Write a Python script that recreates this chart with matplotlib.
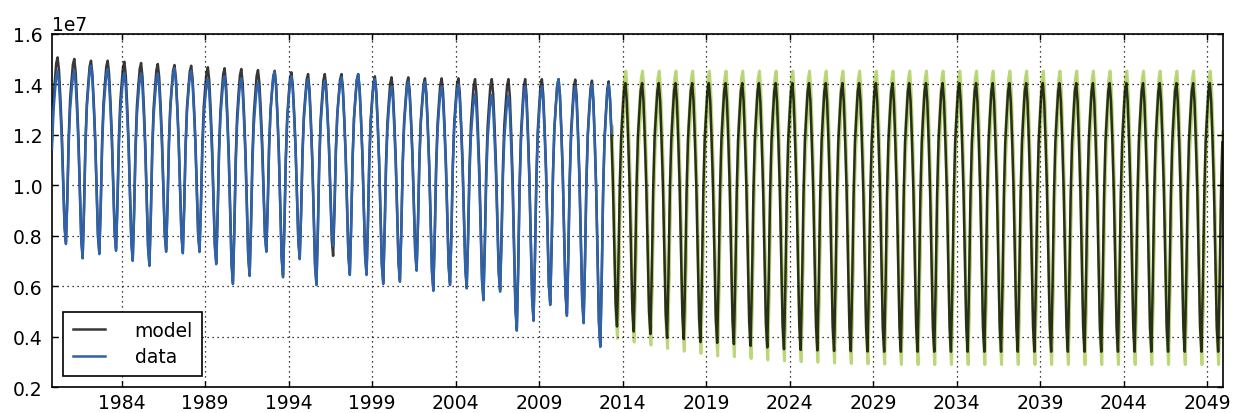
import numpy as np
import matplotlib
matplotlib.use("Agg")
import matplotlib.pyplot as plt

# seasonal shape of one year, Jan..Dec (0 = September minimum, 1 = March maximum)
season = [0.88, 0.97, 1.0, 0.93, 0.78, 0.60, 0.34, 0.09, 0.0, 0.25, 0.58, 0.78]

# observed extent, yearly March maxima (1980..2013) and September minima (1979..2013)
data_max = [1.454, 1.454, 1.474, 1.461, 1.445, 1.443, 1.443, 1.464, 1.454, 1.421,
            1.432, 1.424, 1.408, 1.450, 1.432, 1.421, 1.415, 1.428, 1.440, 1.421,
            1.392, 1.410, 1.410, 1.392, 1.400, 1.362, 1.358, 1.355, 1.392, 1.392,
            1.421, 1.392, 1.400, 1.400]
data_min = [0.720, 0.767, 0.710, 0.727, 0.740, 0.700, 0.680, 0.736, 0.730, 0.735,
            0.687, 0.608, 0.640, 0.736, 0.635, 0.707, 0.604, 0.760, 0.644, 0.644,
            0.608, 0.617, 0.661, 0.581, 0.604, 0.591, 0.544, 0.578, 0.423, 0.462,
            0.525, 0.482, 0.453, 0.359, 0.520]

# model, yearly maxima (1980..2050) and minima (1979..2049)
model_max = [1.507, 1.501, 1.494, 1.494, 1.490, 1.485, 1.481, 1.477, 1.474, 1.468,
             1.464, 1.461, 1.457, 1.454, 1.448, 1.441, 1.441, 1.441, 1.441, 1.432,
             1.428, 1.428, 1.424, 1.424, 1.424, 1.421, 1.421, 1.421, 1.421, 1.421,
             1.421, 1.419, 1.415, 1.412] + [1.405] * 37
model_min = [0.730, 0.777, 0.720, 0.737, 0.750, 0.710, 0.690, 0.746, 0.740, 0.745,
             0.697, 0.618, 0.650, 0.746, 0.645, 0.717, 0.614, 0.720, 0.654, 0.654,
             0.618, 0.627, 0.671, 0.591, 0.614, 0.601, 0.554, 0.588, 0.433, 0.472,
             0.535, 0.492, 0.463, 0.369,
             0.440, 0.420, 0.410, 0.395, 0.390, 0.378, 0.375, 0.370, 0.363, 0.357,
             0.350, 0.347, 0.345, 0.343, 0.342, 0.341, 0.340] + [0.340] * 20

# forecast band, maxima (2013..2050) and minima (2013..2049)
band_top_max = [1.455] * 38
band_bot_max = [1.350] * 38
band_top_min = [0.470, 0.450, 0.440, 0.425, 0.420, 0.410, 0.405, 0.400, 0.393, 0.387,
                0.380, 0.377, 0.375, 0.373, 0.372, 0.371, 0.370] + [0.370] * 20
band_bot_min = [0.395, 0.380, 0.368, 0.355, 0.344, 0.335, 0.325, 0.322, 0.315, 0.309,
                0.305, 0.302, 0.300, 0.297, 0.295, 0.294, 0.293] + [0.291] * 20


def monthly(maxima, max_y0, minima, min_y0, start, end):
    hi = {max_y0 + i: v for i, v in enumerate(maxima)}
    lo = {min_y0 + i: v for i, v in enumerate(minima)}
    t, v = [], []
    for k in range(start[0] * 12 + start[1] - 1, end[0] * 12 + end[1]):
        y, m = divmod(k, 12)
        f = season[m]
        if m < 2:
            a, b = lo[y - 1], hi[y]
        elif m < 9:
            a, b = lo[y], hi[y]
        else:
            a, b = lo[y], hi[y + 1]
        t.append(y + m / 12.0)
        v.append((a + f * (b - a)) * 1e7)
    return np.array(t), np.array(v)


t_data, y_data = monthly(data_max, 1980, data_min, 1979, (1979, 11), (2013, 5))
t_model, y_model = monthly(model_max, 1980, model_min, 1979, (1979, 11), (2049, 12))
t_band, y_top = monthly(band_top_max, 2013, band_top_min, 2013, (2013, 5), (2049, 12))
_, y_bot = monthly(band_bot_max, 2013, band_bot_min, 2013, (2013, 5), (2049, 12))

plt.rcParams["font.family"] = "DejaVu Sans"
fig = plt.figure(figsize=(12.33, 4.14), dpi=100)
ax = fig.add_axes([0.0422, 0.0628, 0.9497, 0.8527])

ax.fill_between(t_band, y_bot, y_top, facecolor="#b2d265", edgecolor="#b2d265",
                alpha=0.85, lw=2.2, zorder=2)
ax.plot(t_model, y_model, color="k", alpha=0.78, lw=1.8, label="model", zorder=3)
ax.plot(t_data, y_data, color="#2f62a8", lw=1.8, label="data", zorder=4)

ax.set_xlim(t_model[0], t_model[-1] + 0.04)
ax.set_ylim(0.2e7, 1.6e7)
ax.set_xticks(np.arange(1984, 2050, 5))
ax.set_xticklabels([str(y) for y in range(1984, 2050, 5)])
ax.set_yticks(np.arange(0.2e7, 1.61e7, 0.2e7))

ax.set_axisbelow(False)
ax.grid(True, color="k", linestyle=(0, (1, 3)), linewidth=0.9)
ax.tick_params(direction="in", length=4, width=1, labelsize=13.5,
               top=True, right=True)
ax.tick_params(axis="x", pad=4)
ax.tick_params(axis="y", pad=7)
for s in ax.spines.values():
    s.set_linewidth(1.2)
ax.yaxis.get_offset_text().set_fontsize(13.5)

leg = ax.legend(loc="lower left", fontsize=13.5, fancybox=False, framealpha=1,
                edgecolor="k", handlelength=1.7, handletextpad=1.6,
                borderaxespad=0.6, labelspacing=0.4, borderpad=0.5)
leg.get_frame().set_linewidth(1.2)

fig.savefig("out.png", dpi=100, facecolor="white")
